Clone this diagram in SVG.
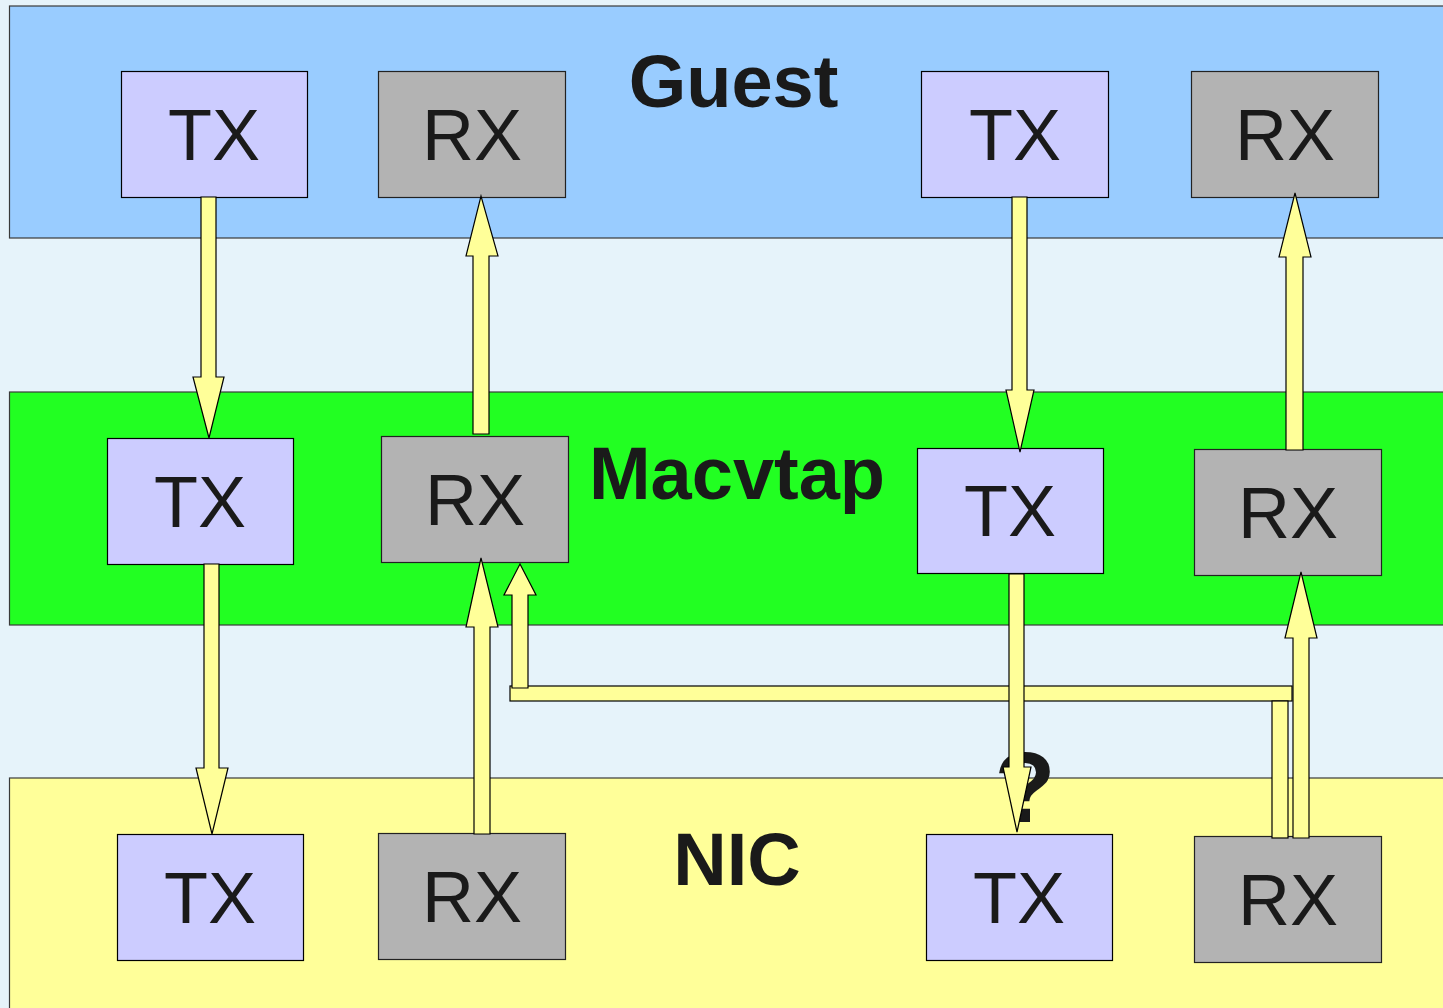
<svg xmlns="http://www.w3.org/2000/svg" width="1443" height="1008" viewBox="0 0 1443 1008">
<style>
.band{stroke:#3a3a3a;stroke-width:1.2}
.tx{fill:#ccccff;stroke:#000;stroke-width:1.2}
.rx{fill:#b3b3b3;stroke:#222;stroke-width:1.2}
.lbl{font-family:"Liberation Sans",Arial,sans-serif;font-size:72px;fill:#1a1a1a;text-anchor:middle}
.ttl{font-family:"Liberation Sans",Arial,sans-serif;font-size:74px;font-weight:bold;fill:#1a1a1a;text-anchor:middle}
.arr{fill:#ffff99;stroke:#000;stroke-width:1.2;stroke-linejoin:miter}
</style>
<rect x="0" y="0" width="1443" height="1008" fill="#e6f3fa"/>
<g id="guest-layer">
<rect class="band" x="9.5" y="6" width="1450" height="232" fill="#99ccff"/>
<text class="ttl" x="733.5" y="107">Guest</text>
</g>
<g id="macvtap-layer">
<rect class="band" x="9.5" y="392" width="1450" height="233" fill="#22ff22"/>
<text class="ttl" x="737" y="499">Macvtap</text>
</g>
<g id="nic-layer">
<rect class="band" x="9.5" y="778" width="1450" height="240" fill="#ffff99"/>
<text class="ttl" x="737" y="885">NIC</text>
</g>
<g id="guest-tx1"><rect class="tx" x="121.5" y="71.5" width="186" height="126"/><text class="lbl" x="214" y="160">TX</text></g>
<g id="guest-rx1"><rect class="rx" x="378.5" y="71.5" width="187" height="126"/><text class="lbl" x="472" y="160">RX</text></g>
<g id="guest-tx2"><rect class="tx" x="921.5" y="71.5" width="187" height="126"/><text class="lbl" x="1015" y="160">TX</text></g>
<g id="guest-rx2"><rect class="rx" x="1191.5" y="71.5" width="187" height="126"/><text class="lbl" x="1285" y="160">RX</text></g>
<g id="mac-tx1"><rect class="tx" x="107.5" y="438.5" width="186" height="126"/><text class="lbl" x="200" y="527">TX</text></g>
<g id="mac-rx1"><rect class="rx" x="381.5" y="436.5" width="187" height="126"/><text class="lbl" x="475" y="525">RX</text></g>
<g id="mac-tx2"><rect class="tx" x="917.5" y="448.5" width="186" height="125"/><text class="lbl" x="1010" y="536">TX</text></g>
<g id="mac-rx2"><rect class="rx" x="1194.5" y="449.5" width="187" height="126"/><text class="lbl" x="1288" y="538">RX</text></g>
<g id="nic-tx1"><rect class="tx" x="117.5" y="834.5" width="186" height="126"/><text class="lbl" x="210" y="923">TX</text></g>
<g id="nic-rx1"><rect class="rx" x="378.5" y="833.5" width="187" height="126"/><text class="lbl" x="472" y="922">RX</text></g>
<g id="nic-tx2"><rect class="tx" x="926.5" y="834.5" width="186" height="126"/><text class="lbl" x="1019" y="923">TX</text></g>
<g id="nic-rx2"><rect class="rx" x="1194.5" y="836.5" width="187" height="126"/><text class="lbl" x="1288" y="925">RX</text></g>
<text id="question" x="1025" y="822" style="font-family:'Liberation Sans',Arial,sans-serif;font-size:100px;font-weight:bold;fill:#1a1a1a;text-anchor:middle">?</text>
<g id="connectors">
<polygon class="arr" points="201,197 216,197 216,377 224,377 209,438 193,377 201,377"/>
<polygon class="arr" points="473,434 489,434 489,256 498,256 481,196 466,256 473,256"/>
<polygon class="arr" points="1012,197 1027,197 1027,390 1034,390 1020,452 1006,390 1012,390"/>
<polygon class="arr" points="1286,450 1303,450 1303,257 1311,257 1295,193 1279,257 1286,257"/>
<polygon class="arr" points="204,564 219,564 219,768 228,768 212,834 196,768 204,768"/>
<polygon class="arr" points="474,834 490,834 490,627 498,627 481,558 466,627 474,627"/>
<rect class="arr" x="510" y="686" width="782" height="15"/>
<rect class="arr" x="1272" y="701" width="16" height="137"/>
<polygon class="arr" points="512,688 528,688 528,595 536,595 520,564 504,595 512,595"/>
<polygon class="arr" points="1009,574 1024,574 1024,767 1031,767 1017,832 1003,767 1009,767"/>
<polygon class="arr" points="1293,838 1309,838 1309,638 1317,638 1301,572 1285,638 1293,638"/>
</g>
</svg>
